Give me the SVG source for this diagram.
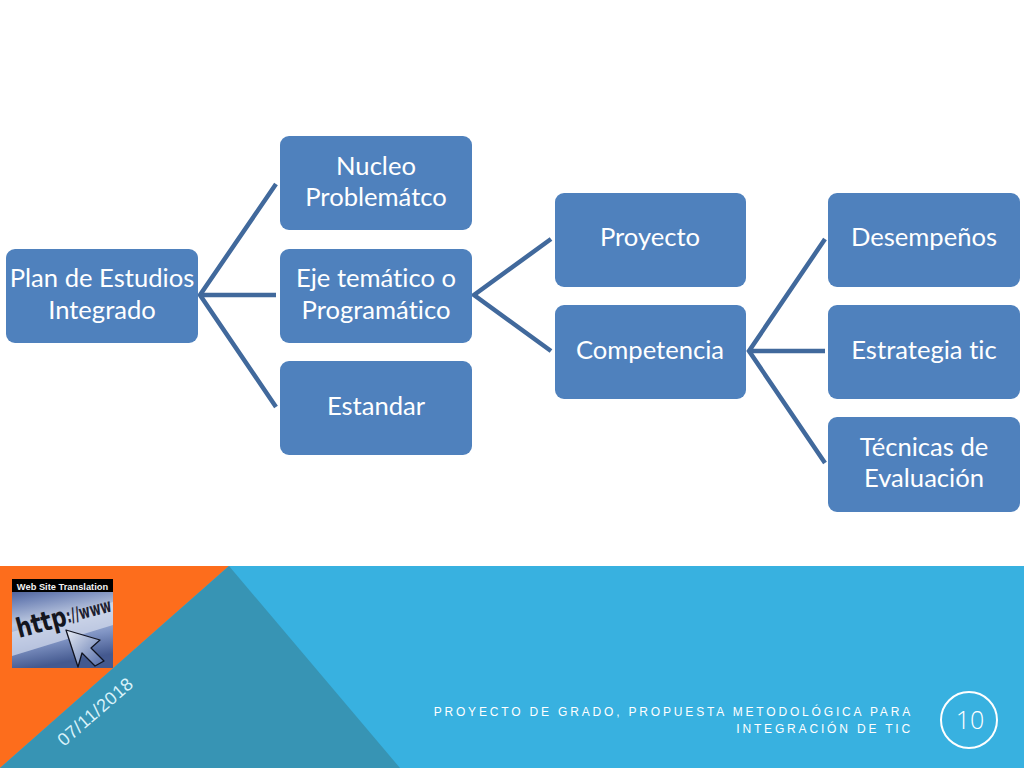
<svg xmlns="http://www.w3.org/2000/svg" width="1024" height="768" viewBox="0 0 1024 768">
<defs>
<linearGradient id="web" x1="0" y1="0" x2="0.2" y2="1"><stop offset="0" stop-color="#2b3d78"/><stop offset="0.25" stop-color="#6f83b6"/><stop offset="0.5" stop-color="#bcc8e0"/><stop offset="0.75" stop-color="#8094c4"/><stop offset="1" stop-color="#44598f"/></linearGradient>
<linearGradient id="cur" x1="0" y1="0" x2="1" y2="1"><stop offset="0" stop-color="#e8edf6"/><stop offset="1" stop-color="#4f68a6"/></linearGradient>
</defs>
<style>
.box{fill:#4f81bd}
.lbl{font-family:Lato,"Open Sans",sans-serif;font-size:25.6px;fill:#fff;text-anchor:middle;font-variant-ligatures:none}
.con{fill:none;stroke:#41699c;stroke-width:4.500;stroke-linecap:butt}
.foot{font-family:"Liberation Sans",Arial,sans-serif;font-size:12px;letter-spacing:2.830px;fill:#fff;text-anchor:end}
</style>
<rect width="1024" height="768" fill="#fff"/>
<g id="footer">
<rect x="0" y="566" width="1024" height="202" fill="#38b1e0"/>
<polygon points="0,566 229,566 0,768" fill="#fd6d1c"/>
<polygon points="229,566 400,768 0,768" fill="#3794b4"/>
</g>
<g id="connectors">
<path class="con" d="M276,184 L200,295 L276,407 M200,295 H276"/>
<path class="con" d="M551,239 L474,295 L551,351"/>
<path class="con" d="M825,239 L749,351 L825,463 M749,351 H825"/>
</g>
<g id="n-plan"><rect class="box" x="6" y="249" width="192" height="94" rx="9"/><text class="lbl" x="102" y="287">Plan de Estudios</text><text class="lbl" x="102" y="319">Integrado</text></g>
<g id="n-nucleo"><rect class="box" x="280" y="136" width="192" height="94" rx="9"/><text class="lbl" x="376" y="175">Nucleo</text><text class="lbl" x="376" y="206">Problemátco</text></g>
<g id="n-eje"><rect class="box" x="280" y="249" width="192" height="94" rx="9"/><text class="lbl" x="376" y="287">Eje temático o</text><text class="lbl" x="376" y="319">Programático</text></g>
<g id="n-estandar"><rect class="box" x="280" y="361" width="192" height="94" rx="9"/><text class="lbl" x="376" y="415">Estandar</text></g>
<g id="n-proyecto"><rect class="box" x="555" y="193" width="191" height="94" rx="9"/><text class="lbl" x="650" y="246">Proyecto</text></g>
<g id="n-competencia"><rect class="box" x="555" y="305" width="191" height="94" rx="9"/><text class="lbl" x="650" y="359">Competencia</text></g>
<g id="n-desempenos"><rect class="box" x="828" y="193" width="192" height="94" rx="9"/><text class="lbl" x="924" y="246">Desempeños</text></g>
<g id="n-estrategia"><rect class="box" x="828" y="305" width="192" height="94" rx="9"/><text class="lbl" x="924" y="359">Estrategia tic</text></g>
<g id="n-tecnicas"><rect class="box" x="828" y="417" width="192" height="95" rx="9"/><text class="lbl" x="924" y="456">Técnicas de</text><text class="lbl" x="924" y="487">Evaluación</text></g>
<g id="logo">
<rect x="12" y="579" width="101" height="89" fill="url(#web)"/>
<polygon points="12,632 113,602 113,625 12,656" fill="#d4dcec" opacity="0.7"/>
<rect x="12" y="579" width="101" height="13" fill="#000"/>
<text x="62.500" y="589.500" font-family="Liberation Sans,Arial,sans-serif" font-size="9.300" font-weight="700" fill="#f2f2f2" text-anchor="middle">Web Site Translation</text>
<text x="19" y="638" font-family="DejaVu Sans,sans-serif" font-size="27" font-weight="700" fill="#14161f" transform="rotate(-15 19 638)" textLength="51" lengthAdjust="spacingAndGlyphs">http</text>
<text x="68" y="623" font-family="DejaVu Sans,sans-serif" font-size="19" font-weight="700" fill="#1c2030" transform="rotate(-15 68 623)" textLength="46" lengthAdjust="spacingAndGlyphs">://www</text>
<polygon points="66,630 100,640 91,648 104,661 95,666 82,653 78,667" fill="url(#cur)" stroke="#10131f" stroke-width="1.300" stroke-linejoin="round"/>
</g>
<text id="date" x="0" y="0" transform="translate(64 747) rotate(-41)" font-family="Liberation Sans,Arial,sans-serif" font-size="18px" letter-spacing="0.500" fill="#d8f2fa">07/11/2018</text>
<text class="foot" x="913" y="716">PROYECTO DE GRADO, PROPUESTA METODOLÓGICA PARA</text>
<text class="foot" x="913" y="733">INTEGRACIÓN DE TIC</text>
<g id="page"><circle cx="969" cy="720" r="28" fill="none" stroke="#fff" stroke-width="2"/><text x="970" y="729" font-family="Open Sans,sans-serif" font-weight="300" font-size="25px" fill="#fff" text-anchor="middle">10</text></g>
</svg>
